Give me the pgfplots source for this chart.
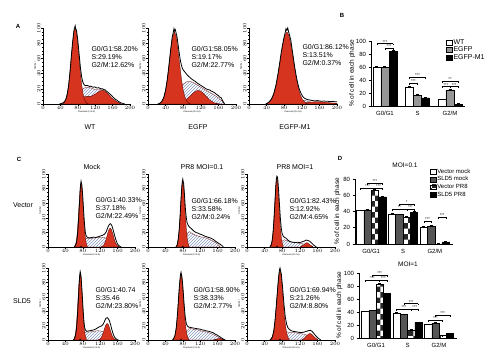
\documentclass[border=0pt]{standalone}
\usepackage{fontspec}
\setmainfont{Liberation Sans}
\usepackage{pgfplots}
\pgfplotsset{compat=1.18}
\usetikzlibrary{patterns}
\definecolor{fred}{RGB}{214,52,30}
\definecolor{hatchc}{RGB}{135,150,190}
\definecolor{egfpg}{RGB}{150,150,150}
\definecolor{sldg}{RGB}{85,85,85}
\newcommand{\tx}{\fontsize{7}{8}\selectfont}
\newcommand{\brk}[4]{%
 \draw[line width=0.4pt] (axis cs:#1,#3) -- (axis cs:#2,#3);
 \draw[line width=0.4pt] (axis cs:#1,#3) -- ++(0pt,-1.8pt);
 \draw[line width=0.4pt] (axis cs:#2,#3) -- ++(0pt,-1.8pt);
 \node[font=\fontsize{4}{4}\selectfont, inner sep=0pt, anchor=south, yshift=0.2pt] at (axis cs:{(#1+#2)/2},#3) {#4};}
\pgfplotsset{
 hist/.style={scale only axis, anchor=south west, xmin=0, xmax=200, ymin=0, ymax=100,
  axis lines*=left, axis line style={line width=0.5pt}, tick align=outside,
  xtick={0,40,...,200}, ytick={0,20,...,100}, minor x tick num=3, minor y tick num=3,
  major tick length=1.8pt, minor tick length=1pt, tick style={black, line width=0.35pt},
  xticklabel style={font=\fontsize{2}{2}\selectfont, inner sep=0.6pt},
  yticklabel style={font=\fontsize{2}{2}\selectfont, inner sep=0.6pt, rotate=90, anchor=south},
  xlabel={Channels (FL2-A)}, ylabel={Number},
  xlabel style={font=\fontsize{2.2}{2.2}\selectfont, inner sep=0.5pt},
  ylabel style={font=\fontsize{2.2}{2.2}\selectfont, inner sep=0.5pt},
  clip=false},
 redp/.style={fill=fred, draw=black!70!red, line width=0.3pt},
 hatp/.style={pattern=north east lines, pattern color=hatchc, draw=red!40!black, line width=0.25pt},
 outl/.style={black, line width=0.8pt},
 tri/.style={only marks, mark=triangle*, mark size=1pt, black},
 gp/.style={scale only axis, anchor=south west, axis lines*=left, axis line style={line width=0.7pt},
  ybar=0pt, ymin=0, tick align=outside, ytick style={line width=0.6pt, black}, major tick length=2.5pt,
  xtick={0,1,2}, xticklabels={G0/G1,S,G2/M}, xtick style={draw=none},
  tick label style={font=\fontsize{6}{6}\selectfont}, /pgf/number format/assume math mode=true,
  ylabel={\% of cell in each phase}, ylabel style={font=\fontsize{6.5}{6.5}\selectfont, anchor=center},
  yticklabel style={xshift=1pt}, xticklabel style={yshift=1pt},
  error bars/error bar style={line width=0.5pt, black},
  error bars/error mark options={rotate=90, mark size=1.5pt, line width=0.5pt, black},
  area legend,
  legend style={draw=none, fill=none, anchor=north west, inner sep=0pt, nodes={inner sep=0.6pt}, cells={anchor=west}},
  legend image code/.code={\draw[#1] (0pt,-2.4pt) rectangle (6pt,2.4pt);},
  clip=false},
 eb/.style={draw=black, line width=0.5pt, error bars/y dir=plus, error bars/y explicit},
}
\begin{document}
\begin{tikzpicture}[x=1pt,y=1pt]
\path[use as bounding box] (0,0) rectangle (500,358);

% ---------------- Panel A ----------------
\node[font=\bfseries\fontsize{6}{6}\selectfont] at (18,332) {A};
% WT
\begin{axis}[hist, at={(43pt,254pt)}, width=87pt, height=76pt]
\addplot[hatp] coordinates {(78,0)(80,4)(85,14)(90,19)(95,21)(100,22)(105,22)(110,21)(115,20)(120,19)(125,19)(130,19)(135,19)(140,18)(145,15)(150,11)(155,6)(160,2)(165,0)} \closedcycle;
\addplot[redp] coordinates {(55,0)(60,1)(70,3)(80,6)(90,9)(100,10)(110,10)(120,13)(130,17)(136,18)(142,17)(150,13)(160,7)(170,3)(180,0)} \closedcycle;
\addplot[redp] coordinates {(44,0)(47,1.1)(50,2.9)(53,6.6)(56,13.5)(59,25)(62,41)(65,61)(68,80)(71,95)(74,100)(77,95)(80,80)(83,61)(86,41)(89,25)(92,13.5)(95,6.6)(98,2.9)(101,1.1)(104,0)} \closedcycle;
\addplot[outl] coordinates {(38,0)(41,0.5)(44,1)(47,2)(50,3.5)(53,7)(56,14)(59,25)(62,42)(65,62)(68,81)(71,96)(72,99)(74,103)(75,99)(77,97)(80,84)(83,66)(86,48)(89,35)(92,28)(95,25)(98,24)(101,24.5)(104,24)(107,23)(110,23.5)(113,22.5)(116,22)(119,22.5)(122,21.5)(125,21)(128,21.5)(131,20.5)(134,20)(137,20)(140,19)(143,18.5)(146,17)(149,15.5)(152,14)(155,12.5)(158,11)(161,9)(164,7.5)(167,6)(170,5)(173,3.5)(176,2.5)(179,1.5)(182,1)(185,0.5)(188,0)};
\end{axis}
% EGFP
\begin{axis}[hist, at={(148pt,254pt)}, width=88pt, height=76pt]
\addplot[hatp] coordinates {(50,0)(60,5)(70,18)(80,26)(90,30)(100,29)(110,26)(120,22)(130,18.5)(140,15.5)(150,12)(160,8)(168,4)(174,0)} \closedcycle;
\addplot[redp] coordinates {(70,0)(80,3)(90,7.5)(100,13)(106,16)(113,18)(120,17)(130,11.5)(140,5.4)(150,1.7)(160,0.3)(165,0)} \closedcycle;
\addplot[redp] coordinates {(24,0)(28,1.4)(32,3.7)(36,8.8)(40,18)(44,33)(48,52.4)(52,73)(56,89)(60,95)(64,89)(68,73)(72,52.4)(76,33)(80,18)(84,8.8)(88,3.7)(92,1.4)(96,0)} \closedcycle;
\addplot[outl] coordinates {(22,0)(26,0.8)(28,1.5)(32,4)(36,9)(40,18)(44,33)(48,53)(52,74)(55,88)(57,93)(59,99)(60,96)(62,98)(64,93)(66,88)(68,80)(70,71)(72,63)(74,56)(76,51)(78,47)(81,44)(84,42)(88,39)(92,36.5)(96,34.5)(100,32.5)(104,31)(108,29.5)(112,27.5)(116,26)(120,24.5)(124,23)(128,21.5)(132,20)(136,19)(140,18.5)(144,17)(148,16)(152,14.5)(156,12.5)(160,11)(163,9)(166,8.5)(168,6)(170,4)(172,2)(174,0)};
\end{axis}
% EGFP-M1
\begin{axis}[hist, at={(249pt,254pt)}, width=88pt, height=76pt]
\addplot[hatp] coordinates {(85,0)(95,3)(105,5)(115,5.5)(125,5)(135,3.5)(145,1.5)(150,0)} \closedcycle;
\addplot[redp] coordinates {(110,0)(125,1.5)(140,2.5)(155,3)(170,2.5)(185,1.5)(200,1)} \closedcycle;
\addplot[redp] coordinates {(38,0)(41,1)(46,2.8)(51,6.3)(56,12.8)(61,23.8)(66,39)(71,57.7)(76,76)(81,90)(86,95)(91,90)(96,76)(101,57.7)(106,39)(111,23.8)(116,12.8)(121,6.3)(126,2.8)(131,1)(134,0)} \closedcycle;
\addplot[outl] coordinates {(38,0)(42,1)(46,3)(51,6.5)(56,13)(61,24)(66,40)(70,55)(73,67)(76,77)(79,86)(81,91)(83,96)(84,99)(86,97)(88,100)(90,95)(92,91)(95,84)(98,72)(101,60)(104,48)(107,38)(110,29)(113,22)(116,17)(119,13)(122,10)(125,8)(128,7)(132,6)(136,5.5)(140,5)(145,4.5)(150,4)(155,4.5)(160,4)(165,3.5)(170,4)(175,3.5)(180,3.5)(185,3)(190,3.5)(195,3)(200,3)};
\end{axis}
\node[anchor=west,font=\tx] at (88,309) {G0/G1:58.20\%};
\node[anchor=west,font=\tx] at (88,301) {S:29.19\%};
\node[anchor=west,font=\tx] at (88,293) {G2/M:12.62\%};
\node[anchor=west,font=\tx] at (188,309) {G0/G1:58.05\%};
\node[anchor=west,font=\tx] at (188,301) {S:19.17\%};
\node[anchor=west,font=\tx] at (188,293) {G2/M:22.77\%};
\node[anchor=west,font=\tx] at (299,311) {G0/G1:86.12\%};
\node[anchor=west,font=\tx] at (299,303) {S:13.51\%};
\node[anchor=west,font=\tx] at (299,295) {G2/M:0.37\%};
\node[font=\tx] at (90,231) {WT};
\node[font=\tx] at (198,231) {EGFP};
\node[font=\tx] at (295,231) {EGFP-M1};

% ---------------- Panel B ----------------
\node[font=\bfseries\fontsize{6}{6}\selectfont] at (342,343) {B};
\begin{axis}[gp, at={(371pt,252pt)}, width=94pt, height=65pt, xmin=-0.43, xmax=2.46, ymax=100, ytick={0,20,...,100}, bar width=0.25,
 ylabel style={at={(axis description cs:-0.2,0.5)}},
 legend style={at={(0.80,1.04)}, font=\fontsize{7}{7}\selectfont, row sep=0pt}]
\addplot[eb, fill=white, bar shift=-0.25] coordinates {(0,60) +- (0,0.8) (1,29) +- (0,1.5) (2,10) +- (0,0.8)};
\addplot[eb, fill=egfpg, bar shift=0] coordinates {(0,59) +- (0,1.5) (1,16.5) +- (0,1) (2,23.5) +- (0,3)};
\addplot[eb, fill=black, bar shift=0.25] coordinates {(0,84) +- (0,2) (1,12.5) +- (0,1) (2,3) +- (0,0.5)};
\legend{WT,EGFP,EGFP-M1}
\brk{-0.25}{0.25}{96}{***}
\brk{0}{0.25}{89}{***}
\brk{0.75}{1.25}{44}{***}
\brk{0.75}{1}{35}{***}
\brk{1.75}{2.25}{38}{**}
\brk{1.75}{2}{30}{***}
\brk{2}{2.25}{30}{***}
\end{axis}

% ---------------- Panel C ----------------
\node[font=\bfseries\fontsize{6}{6}\selectfont] at (19,199) {C};
\node[font=\tx] at (92,191) {Mock};
\node[font=\tx] at (202,191) {PR8 MOI=0.1};
\node[font=\tx] at (295,191) {PR8 MOI=1};
\node[font=\tx] at (23,153) {Vector};
\node[font=\tx] at (22,57) {SLD5};
% row 1 col 1
\begin{axis}[hist, at={(48pt,111pt)}, width=87pt, height=73pt]
\addplot[hatp] coordinates {(78,0)(82,8)(88,12)(100,12)(110,12.5)(120,13.5)(130,13)(138,10)(145,5)(150,0)} \closedcycle;
\addplot[redp] coordinates {(122,0.3)(125,1)(128,2.6)(131,6)(134,11.4)(137,18)(140,23.7)(143,26)(146,23.7)(149,18)(152,11.4)(155,6)(158,2.6)(161,1)(164,0.3)} \closedcycle;
\addplot[redp] coordinates {(62,1.8)(64,4.9)(66,11.9)(68,24.5)(70,42.9)(72,63.9)(74,81.2)(76,88)(78,81.2)(80,63.9)(82,42.9)(84,24.5)(86,11.9)(88,4.9)(90,1.8)} \closedcycle;
\addplot[outl] coordinates {(60,0)(63,2)(65,5)(67,12)(69,25)(71,45)(73,66)(74,78)(75,86)(76,90)(77,87)(78,84)(80,68)(82,48)(84,31)(86,19)(88,15)(91,13)(95,12.5)(100,13)(105,13.5)(110,13)(115,14)(120,15)(125,16)(130,17.5)(134,21)(137,26)(140,30)(143,32)(145,31)(147,29)(150,23)(153,16)(156,10)(159,5)(162,2.5)(165,1)(168,0)};
\addplot[tri] coordinates {(76,0)};
\end{axis}
% row 1 col 2
\begin{axis}[hist, at={(148pt,111pt)}, width=87pt, height=73pt]
\addplot[hatp] coordinates {(84,0)(88,12)(92,20)(96,21)(100,19)(110,16)(120,14)(130,13)(140,11)(150,8)(160,4)(166,0)} \closedcycle;
\addplot[redp] coordinates {(66,1.9)(68,5.1)(70,12.3)(72,25.3)(74,44.3)(76,66)(78,84)(80,91)(82,84)(84,66)(86,44.3)(88,25.3)(90,12.3)(92,5.1)(94,1.9)} \closedcycle;
\addplot[outl] coordinates {(64,0)(67,2.5)(70,13)(72,26)(74,45)(76,67)(78,85)(79,90)(80,93)(81,89)(82,87)(84,70)(86,52)(88,40)(90,33)(93,29)(96,27)(100,25)(105,22)(110,20)(115,19)(120,17.5)(125,16.5)(130,15)(135,14)(140,13)(145,12)(150,10.5)(155,8)(160,6)(165,4)(170,2)(173,0)};
\addplot[tri] coordinates {(80,0)};
\end{axis}
% row 1 col 3
\begin{axis}[hist, at={(247pt,111pt)}, width=88pt, height=73pt]
\addplot[hatp] coordinates {(75,0)(80,8)(85,10)(90,9)(100,7)(110,6)(120,5)(130,4)(140,2)(145,0)} \closedcycle;
\addplot[redp] coordinates {(122,0.6)(128,2.6)(132,4.6)(136,6)(140,4.6)(144,2.6)(150,0.6)} \closedcycle;
\addplot[redp] coordinates {(54,2)(56,5.3)(58,12.8)(60,26.4)(62,46.3)(64,69)(66,87.7)(68,95)(70,87.7)(72,69)(74,46.3)(76,26.4)(78,12.8)(80,5.3)(82,2)} \closedcycle;
\addplot[outl] coordinates {(52,0)(55,3)(57,8)(59,18)(61,35)(63,56)(65,78)(66,88)(67,94)(68,97)(69,96)(70,92)(72,76)(74,56)(76,38)(78,25)(80,18)(83,14)(86,13)(89,12)(92,10)(96,8)(100,7)(105,6.5)(110,6)(115,6.5)(120,6)(125,7)(130,8)(134,9.5)(138,9)(142,8)(146,6)(150,3.5)(154,1.5)(158,0)};
\addplot[tri] coordinates {(68,0)};
\end{axis}
% row 2 col 1
\begin{axis}[hist, at={(48pt,18pt)}, width=87pt, height=72pt]
\addplot[hatp] coordinates {(76,0)(80,8)(86,11)(95,11)(105,12)(115,13)(125,12)(132,9)(138,5)(142,0)} \closedcycle;
\addplot[redp] coordinates {(115,0.3)(118,0.9)(121,2.3)(124,5.3)(127,10)(130,16)(133,21)(136,23)(139,21)(142,16)(145,10)(148,5.3)(151,2.3)(154,0.9)(157,0.3)} \closedcycle;
\addplot[redp] coordinates {(60,1.9)(62,5.2)(64,12.6)(66,25.9)(68,45.3)(70,67.5)(72,85.8)(74,93)(76,85.8)(78,67.5)(80,45.3)(82,25.9)(84,12.6)(86,5.2)(88,1.9)} \closedcycle;
\addplot[outl] coordinates {(58,0)(61,2)(63,6)(65,13)(67,27)(69,47)(71,70)(72,82)(73,90)(74,95)(75,92)(76,88)(78,70)(80,49)(82,30)(84,18)(86,14)(89,12)(93,12.5)(97,13)(101,13.5)(105,14)(109,15)(113,16.5)(117,18)(121,19)(124,20)(127,22)(130,26)(133,30)(136,31)(138,30)(141,27)(144,21)(147,14)(150,8)(153,4)(156,2)(159,0.5)(162,0)};
\addplot[tri] coordinates {(74,0)};
\end{axis}
% row 2 col 2
\begin{axis}[hist, at={(148pt,18pt)}, width=87pt, height=72pt]
\addplot[hatp] coordinates {(82,0)(88,12)(95,16)(105,15)(115,14)(125,12)(135,11)(145,9)(155,6)(165,3)(172,0)} \closedcycle;
\addplot[redp] coordinates {(150,0)(158,1.5)(165,2)(172,1)(178,0)} \closedcycle;
\addplot[redp] coordinates {(58,1)(60,2.6)(62,6)(64,12.3)(66,22.8)(68,37.4)(70,55.2)(72,72.8)(74,86)(76,91)(78,86)(80,72.8)(82,55.2)(84,37.4)(86,22.8)(88,12.3)(90,6)(92,2.6)(94,1)} \closedcycle;
\addplot[outl] coordinates {(56,0)(59,2)(62,6.5)(65,17)(68,38)(70,56)(72,74)(74,87)(75,92)(76,94)(77,90)(78,88)(80,75)(82,58)(84,42)(86,30)(88,23)(90,20)(93,18)(97,17.5)(101,17)(105,16.5)(110,16)(115,15.5)(120,15)(125,14)(130,13.5)(135,12.5)(140,12)(145,11)(150,10)(155,8)(160,6.5)(165,4.5)(170,2.5)(174,1)(177,0)};
\addplot[tri] coordinates {(76,0)};
\end{axis}
% row 2 col 3
\begin{axis}[hist, at={(247pt,18pt)}, width=88pt, height=72pt]
\addplot[hatp] coordinates {(80,0)(86,8)(92,11)(100,10.5)(110,10)(120,9)(130,8)(140,6)(150,3)(156,0)} \closedcycle;
\addplot[redp] coordinates {(125,0.6)(130,2.4)(135,5.6)(140,8.4)(143,9)(146,8.4)(151,5.6)(156,2.4)(161,0.6)} \closedcycle;
\addplot[redp] coordinates {(54,1.1)(57,3.6)(60,9.8)(63,22.3)(66,42.5)(69,67.2)(72,88.5)(75,97)(78,88.5)(81,67.2)(84,42.5)(87,22.3)(90,9.8)(93,3.6)(96,1.1)} \closedcycle;
\addplot[outl] coordinates {(52,0)(55,1.5)(58,5)(61,13)(64,29)(67,51)(70,74)(72,88)(73,94)(74,98)(75,100)(76,97)(78,92)(81,72)(84,50)(87,32)(90,22)(93,17)(96,15)(100,13)(105,12)(110,11.5)(115,11)(120,10.5)(125,10.5)(130,11)(135,12)(140,13)(144,13.5)(148,12)(152,9)(156,6)(160,3.5)(164,1.5)(168,0)};
\addplot[tri] coordinates {(75,0)};
\end{axis}
\node[anchor=west,font=\tx] at (92,158) {G0/G1:40.33\%};
\node[anchor=west,font=\tx] at (92,150) {S:37.18\%};
\node[anchor=west,font=\tx] at (92,142) {G2/M:22.49\%};
\node[anchor=west,font=\tx] at (188,157) {G0/G1:66.18\%};
\node[anchor=west,font=\tx] at (188,149) {S:33.58\%};
\node[anchor=west,font=\tx] at (188,141) {G2/M:0.24\%};
\node[anchor=west,font=\tx] at (286,157) {G0/G1:82.43\%};
\node[anchor=west,font=\tx] at (286,149) {S:12.92\%};
\node[anchor=west,font=\tx] at (286,141) {G2/M:4.65\%};
\node[anchor=west,font=\tx] at (92,68) {G0/G1:40.74};
\node[anchor=west,font=\tx] at (92,60) {S:35.46};
\node[anchor=west,font=\tx] at (92,52) {G2/M:23.80\%};
\node[anchor=west,font=\tx] at (190,68) {G0/G1:58.90\%};
\node[anchor=west,font=\tx] at (190,60) {S:38.33\%};
\node[anchor=west,font=\tx] at (190,52) {G2/M:2.77\%};
\node[anchor=west,font=\tx] at (286,68) {G0/G1:69.94\%};
\node[anchor=west,font=\tx] at (286,60) {S:21.26\%};
\node[anchor=west,font=\tx] at (286,52) {G2/M:8.80\%};

% ---------------- Panel D ----------------
\node[font=\bfseries\fontsize{6}{6}\selectfont] at (340,200) {D};
\node[font=\fontsize{6.5}{6.5}\selectfont] at (405,193) {MOI=0.1};
\begin{axis}[gp, at={(355pt,114pt)}, width=98pt, height=65pt, xmin=-0.51, xmax=2.57, ymax=80, ytick={0,20,...,80}, bar width=0.23,
 ylabel style={at={(axis description cs:-0.18,0.5)}},
 legend style={at={(0.765,1.17)}, font=\fontsize{6}{6}\selectfont, row sep=0.8pt}]
\addplot[eb, fill=white, bar shift=-0.345] coordinates {(0,41) +- (0,0.8) (1,37) +- (0,1) (2,21) +- (0,1)};
\addplot[eb, fill=sldg, bar shift=-0.115] coordinates {(0,42) +- (0,1) (1,36) +- (0,0.8) (2,22) +- (0,1)};
\addplot[eb, pattern=checkerboard, pattern color=black!85, bar shift=0.115] coordinates {(0,66) +- (0,1.5) (1,33) +- (0,1) (2,0.3) +- (0,0.1)};
\addplot[eb, fill=black, bar shift=0.345] coordinates {(0,58) +- (0,0.5) (1,39) +- (0,1) (2,2.5) +- (0,0.3)};
\legend{Vector mock,SLD5 mock,Vector PR8,SLD5 PR8}
\brk{-0.115}{0.345}{75}{***}
\brk{-0.345}{0.115}{69}{***}
\brk{0.115}{0.345}{69}{***}
\brk{0.885}{1.345}{49}{*}
\brk{0.655}{1.115}{43}{**}
\brk{1.115}{1.345}{43}{***}
\brk{1.655}{1.885}{28}{***}
\brk{2.115}{2.345}{33}{***}
\end{axis}
\node[font=\fontsize{6.5}{6.5}\selectfont] at (408,94) {MOI=1};
\begin{axis}[gp, at={(359pt,20pt)}, width=98pt, height=65pt, xmin=-0.54, xmax=2.57, ymax=100, ytick={0,20,...,100}, bar width=0.23,
 ylabel style={at={(axis description cs:-0.2,0.5)}}]
\addplot[eb, fill=white, bar shift=-0.345] coordinates {(0,41) +- (0,0.8) (1,38) +- (0,1) (2,21) +- (0,0.8)};
\addplot[eb, fill=sldg, bar shift=-0.115] coordinates {(0,42) +- (0,1) (1,36) +- (0,0.8) (2,22.5) +- (0,1)};
\addplot[eb, pattern=checkerboard, pattern color=black!85, bar shift=0.115] coordinates {(0,83) +- (0,1.5) (1,12) +- (0,0.8) (2,3.5) +- (0,0.3)};
\addplot[eb, fill=black, bar shift=0.345] coordinates {(0,69) +- (0,0.5) (1,23.5) +- (0,1) (2,7) +- (0,0.5)};
\brk{-0.115}{0.345}{97}{***}
\brk{-0.345}{0.115}{89}{***}
\brk{0.115}{0.345}{89}{***}
\brk{0.885}{1.345}{53}{***}
\brk{0.655}{1.115}{44}{***}
\brk{1.115}{1.345}{44}{***}
\brk{1.655}{2.115}{28}{***}
\brk{1.885}{2.345}{35}{***}
\end{axis}
\end{tikzpicture}
\end{document}
